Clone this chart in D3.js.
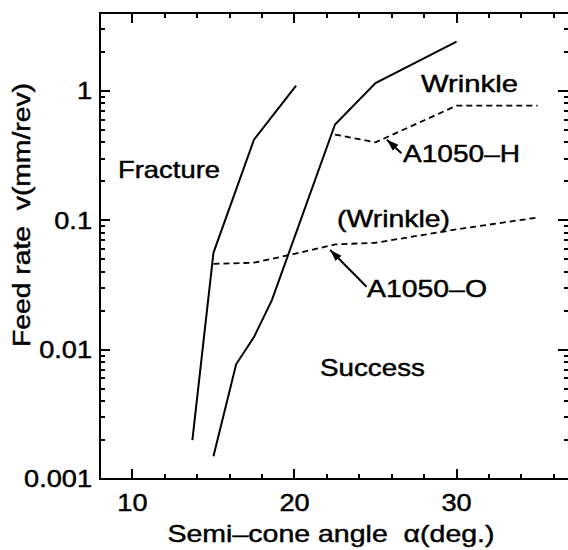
<!DOCTYPE html>
<html>
<head>
<meta charset="utf-8">
<script src="https://cdn.jsdelivr.net/npm/d3@7"></script>
<style>
  body { margin: 0; background: #fff; }
  text { font-family: "Liberation Sans", Arial, sans-serif; fill: #000; stroke: #000; stroke-width: 0.45px; }
  .tick line, .domain { stroke: #000 !important; shape-rendering: crispEdges; }
</style>
</head>
<body>
<script>
// data
var fractureX = [13.7, 15, 17.5, 20.1];
var fractureY = [0.002, 0.056, 0.42, 1.1];

var wrinkleX = [15, 16.4, 17.5, 18.6, 22.5, 25, 30];
var wrinkleY = [0.0015, 0.0077, 0.0125, 0.024, 0.55, 1.15, 2.4];

var hardX = [22.5, 25, 30, 35];
var hardY = [0.46, 0.40, 0.77, 0.77];

var softX = [15, 17.5, 20, 22.5, 25, 30, 35];
var softY = [0.046, 0.047, 0.055, 0.065, 0.067, 0.085, 0.105];

var xTicks = [10, 20, 30];
var yTicks = [0.001, 0.01, 0.1, 1];
var yTickLabels = ["0.001", "0.01", "0.1", "1"];

var width = 568, height = 550;
var margin = {left: 100, top: 13, right: 570, bottom: 479};

var stretch = 1.18;

var svg = d3.select("body").append("svg")
    .attr("width", width)
    .attr("height", height);

var x = d3.scaleLinear().domain([8, 37]).range([margin.left, margin.right]);
var y = d3.scaleLog().domain([0.001, 4]).range([margin.bottom, margin.top]);

// widen the glyphs a bit, the scan uses a wide sans
function widen(sel, f) {
  sel.each(function() {
    var w = this.getComputedTextLength();
    d3.select(this).attr("textLength", w * (f || stretch)).attr("lengthAdjust", "spacingAndGlyphs");
  });
}

// minor ticks
var xMinor = d3.range(8, 37, 2).filter(function(d) { return xTicks.indexOf(d) < 0; });
var yMinor = [];
[0.001, 0.01, 0.1, 1].forEach(function(p) {
  for (var k = 2; k <= 9; k++) { if (p * k <= 4) yMinor.push(p * k); }
});

// bottom axis
svg.append("g")
    .attr("transform", "translate(0," + margin.bottom + ")")
    .call(d3.axisBottom(x).tickValues(xMinor).tickSize(-5).tickFormat("").offset(0));
var xAxisG = svg.append("g")
    .attr("transform", "translate(0," + margin.bottom + ")")
    .call(d3.axisBottom(x).tickValues(xTicks).tickSize(-10).tickPadding(16).tickFormat(d3.format("d")).offset(0));

// top axis
svg.append("g")
    .attr("transform", "translate(0," + margin.top + ")")
    .call(d3.axisTop(x).tickValues(xMinor).tickSize(-5).tickFormat("").offset(0));
svg.append("g")
    .attr("transform", "translate(0," + margin.top + ")")
    .call(d3.axisTop(x).tickValues(xTicks).tickSize(-10).tickFormat("").offset(0));

// left axis
svg.append("g")
    .attr("transform", "translate(" + margin.left + ",0)")
    .call(d3.axisLeft(y).tickValues(yMinor).tickSize(-5).tickFormat("").offset(0));
var yAxisG = svg.append("g")
    .attr("transform", "translate(" + margin.left + ",0)")
    .call(d3.axisLeft(y).tickValues(yTicks).tickSize(-10).tickPadding(8).offset(0)
      .tickFormat(function(d, i) { return yTickLabels[i]; }));

// right axis
svg.append("g")
    .attr("transform", "translate(" + margin.right + ",0)")
    .call(d3.axisRight(y).tickValues(yMinor).tickSize(-6).tickFormat("").offset(0));
svg.append("g")
    .attr("transform", "translate(" + margin.right + ",0)")
    .call(d3.axisRight(y).tickValues(yTicks).tickSize(-12).tickFormat("").offset(0));

svg.selectAll(".domain").attr("stroke-width", 2.5);
svg.selectAll(".tick line").attr("stroke-width", 2);
svg.selectAll(".tick text").style("font-size", "23px").attr("fill", "#000");

xAxisG.selectAll(".tick text").call(widen);
yAxisG.selectAll(".tick text").attr("dy", "0.36em").call(widen);

// curves
var line = d3.line()
    .x(function(d) { return x(d[0]); })
    .y(function(d) { return y(d[1]); });

function pairs(xs, ys) { return xs.map(function(v, i) { return [v, ys[i]]; }); }

svg.append("path").datum(pairs(fractureX, fractureY))
    .attr("d", line).attr("fill", "none").attr("stroke", "#000").attr("stroke-width", 2);
svg.append("path").datum(pairs(wrinkleX, wrinkleY))
    .attr("d", line).attr("fill", "none").attr("stroke", "#000").attr("stroke-width", 2);
svg.append("path").datum(pairs(hardX, hardY))
    .attr("d", line).attr("fill", "none").attr("stroke", "#000").attr("stroke-width", 1.8)
    .attr("stroke-dasharray", "6,4");
svg.append("path").datum(pairs(softX, softY))
    .attr("d", line).attr("fill", "none").attr("stroke", "#000").attr("stroke-width", 1.8)
    .attr("stroke-dasharray", "6,4");

// arrows
svg.append("defs").append("marker")
    .attr("id", "head")
    .attr("viewBox", "0 0 12 10")
    .attr("refX", 12).attr("refY", 5)
    .attr("markerWidth", 6).attr("markerHeight", 5)
    .attr("orient", "auto")
  .append("path")
    .attr("d", "M0,1 L12,5 L0,9 Z")
    .attr("fill", "#000");

var arrows = [
  {from: [26.6, 0.33], to: [25.7, 0.42]},
  {from: [24.45, 0.0306], to: [22.2, 0.059]}
];
svg.selectAll(".arrow").data(arrows).enter().append("line")
    .attr("class", "arrow")
    .attr("x1", function(d) { return x(d.from[0]); })
    .attr("y1", function(d) { return y(d.from[1]); })
    .attr("x2", function(d) { return x(d.to[0]); })
    .attr("y2", function(d) { return y(d.to[1]); })
    .attr("stroke", "#000").attr("stroke-width", 2)
    .attr("marker-end", "url(#head)");

// region labels
var notes = [
  {t: "Fracture", x: 118, y: 178, w: 102},
  {t: "Wrinkle", x: 421, y: 92, w: 97},
  {t: "A1050\u2013H", x: 403, y: 162, w: 117},
  {t: "(Wrinkle)", x: 337, y: 227, w: 113},
  {t: "A1050\u2013O", x: 367, y: 297, w: 120},
  {t: "Success", x: 320, y: 376, w: 105}
];
svg.selectAll(".note").data(notes).enter().append("text")
    .attr("class", "note")
    .attr("x", function(d) { return d.x; })
    .attr("y", function(d) { return d.y; })
    .style("font-size", "24px")
    .attr("textLength", function(d) { return d.w; })
    .attr("lengthAdjust", "spacingAndGlyphs")
    .text(function(d) { return d.t; });

// axis titles
svg.append("text")
    .attr("x", 331)
    .attr("y", 542)
    .attr("text-anchor", "middle")
    .style("font-size", "24px")
    .attr("textLength", 327)
    .attr("lengthAdjust", "spacingAndGlyphs")
    .text("Semi\u2013cone angle \u00a0\u03b1(deg.)");

svg.append("text")
    .attr("transform", "translate(30,215) rotate(-90)")
    .attr("text-anchor", "middle")
    .style("font-size", "23px")
    .attr("textLength", 264)
    .attr("lengthAdjust", "spacingAndGlyphs")
    .text("Feed rate \u00a0v(mm/rev)");
</script>
</body>
</html>
